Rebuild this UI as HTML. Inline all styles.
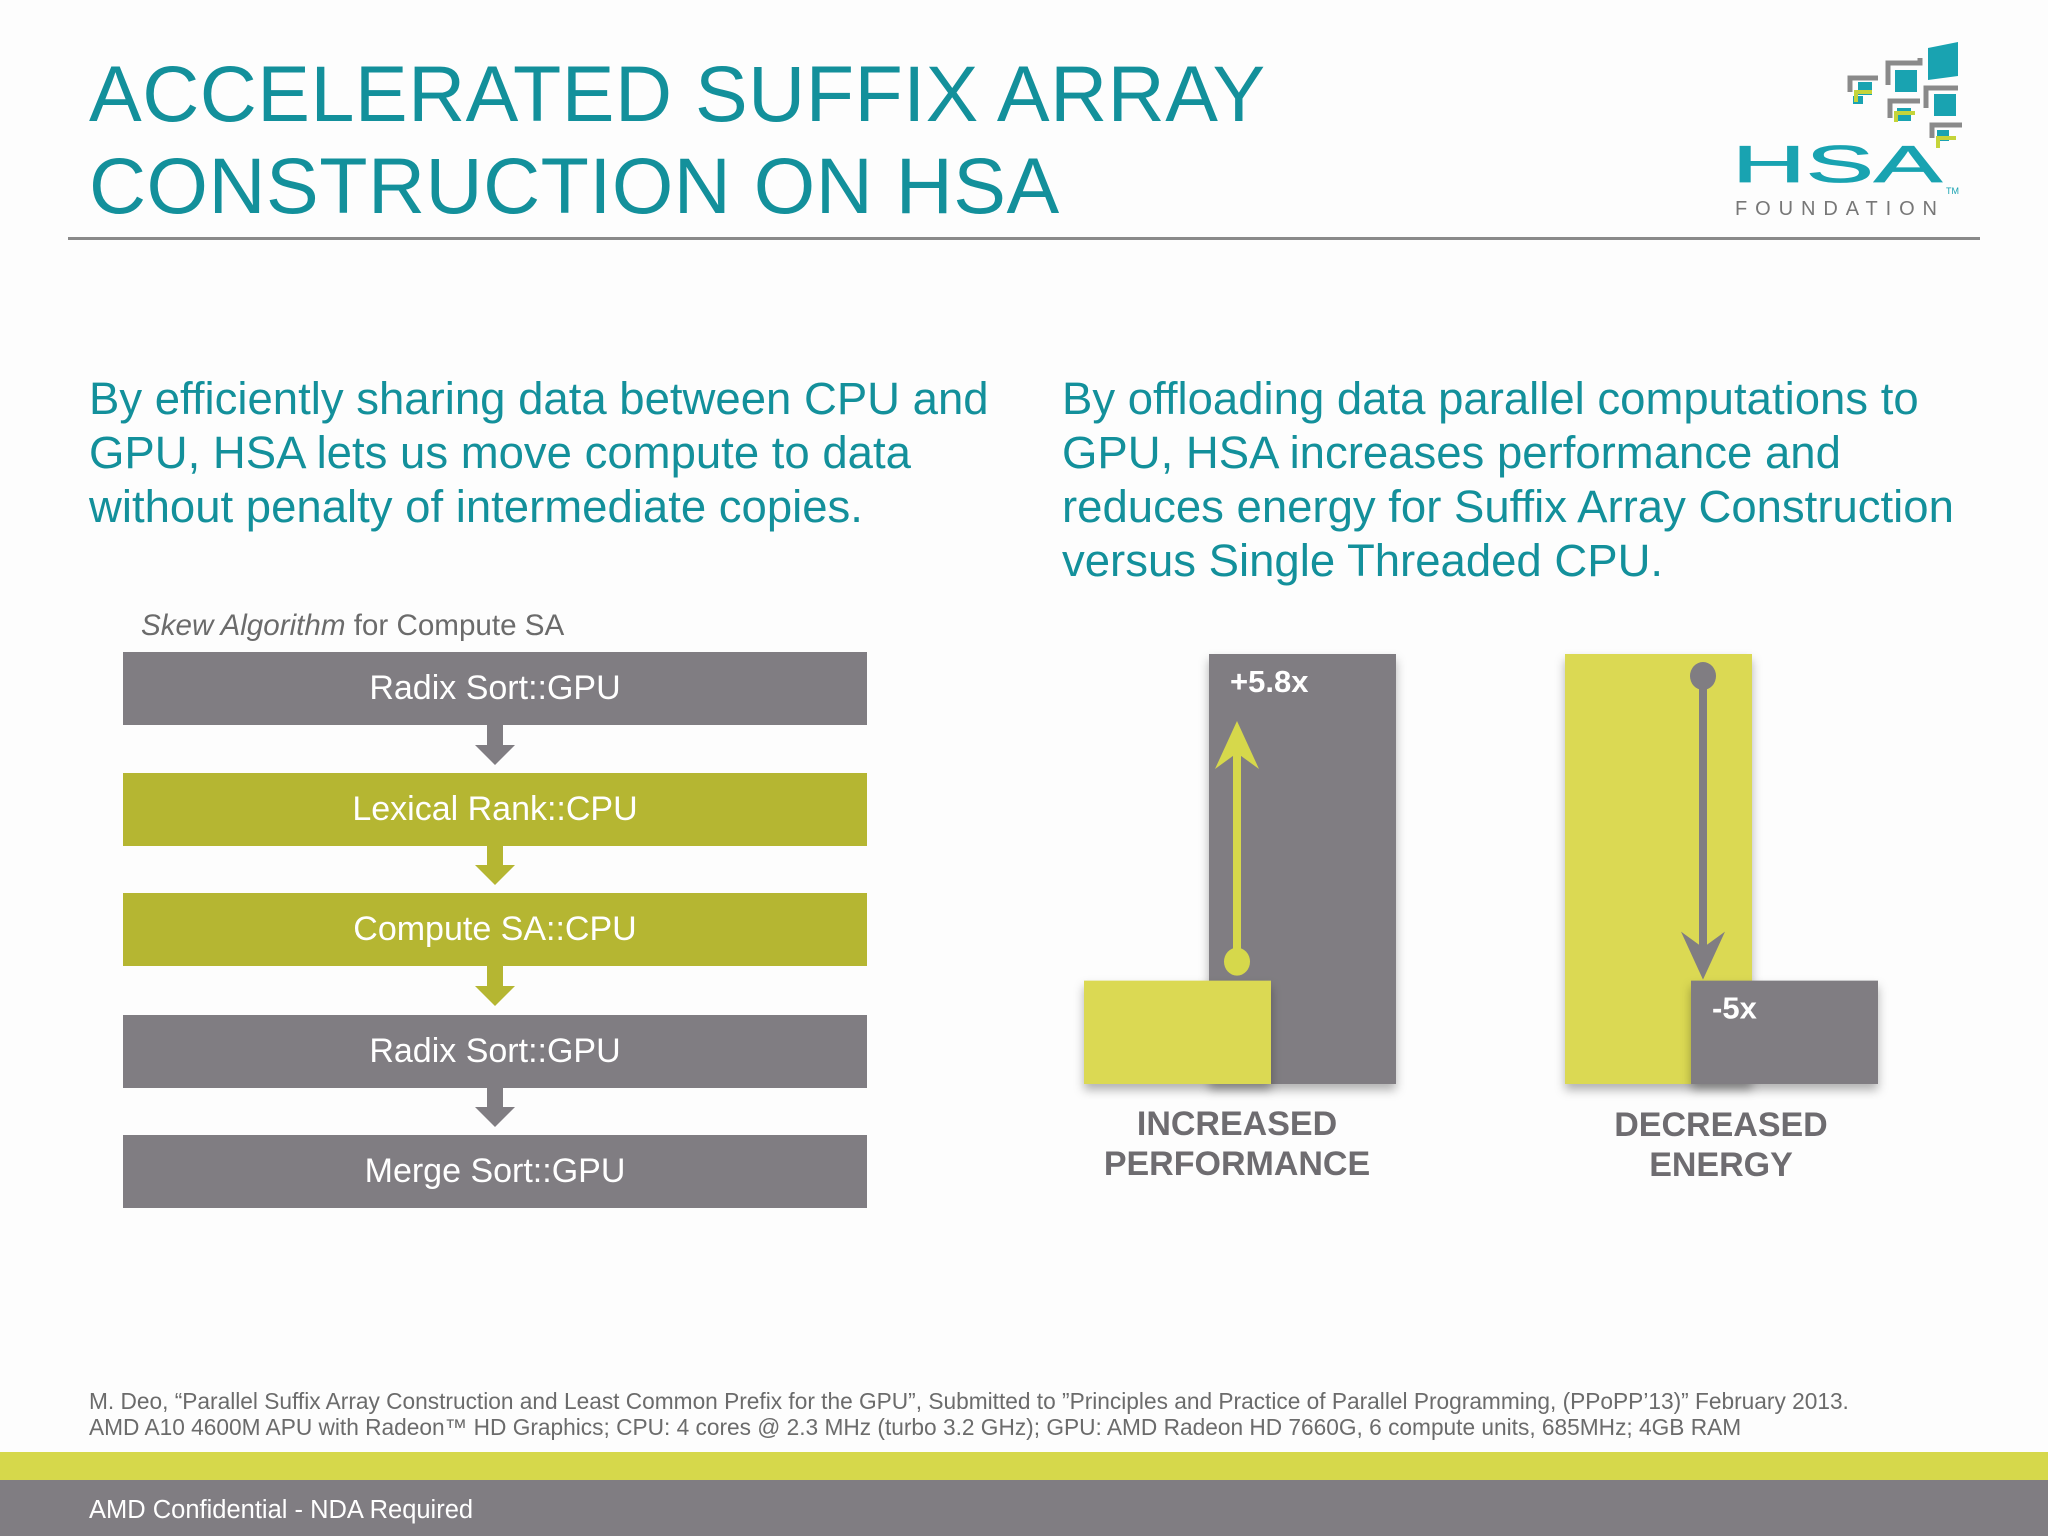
<!DOCTYPE html>
<html><head><meta charset="utf-8">
<style>
body{margin:0;width:2048px;height:1536px;background:#fdfdfd;position:relative;overflow:hidden;font-family:"Liberation Sans",sans-serif}
.abs{position:absolute}
.title{left:89px;top:48px;font-size:79px;line-height:92px;color:#13909b;letter-spacing:0.5px}
.para{font-size:45.5px;line-height:54px;color:#13909b}
.box{position:absolute;left:123px;width:744px;height:73px;color:#fff;font-size:34px;text-align:center;line-height:73px}
.g{background:#807d82}.y{background:#b5b632}
.lbl{position:absolute;font-weight:bold;font-size:34px;line-height:40px;color:#6e6c70;text-align:center;width:400px}
</style></head><body>
<div class="abs title">ACCELERATED SUFFIX ARRAY<br>CONSTRUCTION ON HSA</div>
<div class="abs" style="left:68px;top:237px;width:1912px;height:3px;background:#8a8a8a"></div>
<svg class="abs" style="left:1700px;top:30px" width="300" height="200">
<g fill="#19a3b1">
<path d="M228 18 L258 12 L258 46 L228 50z"/>
<rect x="195" y="40" width="22" height="22"/>
<rect x="234" y="64" width="22" height="22"/>
<rect x="158" y="52" width="14" height="13"/>
<rect x="197" y="78" width="14" height="13"/>
<rect x="237" y="100" width="12" height="11"/>
<rect x="153" y="66" width="10" height="8"/>
</g>
<g fill="none" stroke="#8a8a8a" stroke-width="5">
<path d="M188 55 V33 H220 V28"/>
<path d="M226 78 V58 H258"/>
<path d="M150 62 V48 H178"/>
<path d="M190 88 V71 H220"/>
<path d="M232 108 V95 H262"/>
</g>
<g fill="none" stroke="#c5d43a" stroke-width="4">
<path d="M156 72 V62 H172"/>
<path d="M196 92 V83 H215"/>
<path d="M238 118 V108 H256"/>
</g>
<text x="32" y="152" font-size="52" font-family="Liberation Sans" fill="#19a3b1" textLength="210" lengthAdjust="spacingAndGlyphs" stroke="#19a3b1" stroke-width="0.8">HSA</text>
<text x="246" y="164" font-size="9" fill="#19a3b1">TM</text>
<text x="35" y="185" font-size="20" fill="#777" textLength="202" lengthAdjust="spacing">FOUNDATION</text>
</svg>
<div class="abs para" style="left:89px;top:372px">By efficiently sharing data between CPU and<br>GPU, HSA lets us move compute to data<br>without penalty of intermediate copies.</div>
<div class="abs para" style="left:1062px;top:372px">By offloading data parallel computations to<br>GPU, HSA increases performance and<br>reduces energy for Suffix Array Construction<br>versus Single Threaded CPU.</div>
<div class="abs" style="left:141px;top:609px;font-size:29.6px;color:#6b6b6b"><i>Skew Algorithm</i> for Compute SA</div>
<div class="box g" style="top:652px">Radix Sort::GPU</div>
<div class="box y" style="top:773px">Lexical Rank::CPU</div>
<div class="box y" style="top:893px">Compute SA::CPU</div>
<div class="box g" style="top:1015px">Radix Sort::GPU</div>
<div class="box g" style="top:1135px">Merge Sort::GPU</div>
<svg class="abs" style="left:470px;top:725px" width="50" height="420">
<path d="M17 0h16v20h12l-20 20l-20-20h12z" fill="#807d82" transform="translate(0,0)"/>
<path d="M17 0h16v20h12l-20 20l-20-20h12z" fill="#b5b632" transform="translate(0,120)"/>
<path d="M17 0h16v20h12l-20 20l-20-20h12z" fill="#b5b632" transform="translate(0,241)"/>
<path d="M17 0h16v20h12l-20 20l-20-20h12z" fill="#807d82" transform="translate(0,362)"/>
</svg>
<svg class="abs" style="left:0;top:0" width="2048" height="1200" id="chart">
<defs><filter id="sh" x="-20%" y="-5%" width="140%" height="120%"><feDropShadow dx="0" dy="6" stdDeviation="5" flood-opacity="0.3"/></filter></defs>
</svg>
<div class="lbl" style="left:1037px;top:1104px">INCREASED<br>PERFORMANCE</div>
<div class="lbl" style="left:1521px;top:1105px">DECREASED<br>ENERGY</div>
<div class="abs" style="left:89px;top:1388px;font-size:22.7px;line-height:26px;color:#6b6b6b;white-space:nowrap">M. Deo, “Parallel Suffix Array Construction and Least Common Prefix for the GPU”, Submitted to ”Principles and Practice of Parallel Programming, (PPoPP’13)” February 2013.<br>AMD A10 4600M APU with Radeon™ HD Graphics; CPU: 4 cores @ 2.3 MHz (turbo 3.2 GHz); GPU: AMD Radeon HD 7660G, 6 compute units, 685MHz; 4GB RAM</div>
<div class="abs" style="left:0;top:1452px;width:2048px;height:28px;background:#d6d84b"></div>
<div class="abs" style="left:0;top:1480px;width:2048px;height:56px;background:#807d82"></div>
<div class="abs" style="left:89px;top:1496px;font-size:25.5px;color:#fff">AMD Confidential - NDA Required</div>
<script>
const groups=["performance","energy"];
const baselineValues=[1,4.16];
const hsaValues=[4.16,1];
const multipliers=["+5.8x","-5x"];
const svg=document.getElementById('chart');
const NS="http://www.w3.org/2000/svg";
const y0=1084, unitH=430/4.16;
const yScale=v=>y0-v*unitH;
const groupX=[1084,1565];
function mk(t,a){const e=document.createElementNS(NS,t);for(const k in a)e.setAttribute(k,a[k]);svg.appendChild(e);return e;}
groups.forEach((g,i)=>{
  const gx=groupX[i];
  const yb=yScale(baselineValues[i]), yh=yScale(hsaValues[i]);
  const back=i===0?{x:gx+125,y:yh,c:"#807d82"}:{x:gx,y:yb,c:"#dbd952"};
  const front=i===0?{x:gx,y:yb,c:"#dbd952"}:{x:gx+126,y:yh,c:"#807d82"};
  let b=mk('rect',{x:back.x,y:back.y,width:187,height:y0-back.y,fill:back.c,filter:"url(#sh)"});
  
  
  let f=mk('rect',{x:front.x,y:front.y,width:187,height:y0-front.y,fill:front.c,filter:"url(#sh)"});
  
  
  const ax=i===0?1237:1703, col=i===0?"#d6d84b":"#807d82";
  let a=mk('g',{});
  if(i===0){
    const ys=yb-19, ye=yh+67;
    a.innerHTML=`<line x1="${ax}" y1="${ys}" x2="${ax}" y2="${ye+20}" stroke="${col}" stroke-width="8"/><ellipse cx="${ax}" cy="${ys}" rx="13" ry="14" fill="${col}"/><path d="M${ax} ${ye} l-22 48 l22 -16 l22 16z" fill="${col}"/>`;
  } else {
    const ys=yb+22, ye=yh-1;
    a.innerHTML=`<line x1="${ax}" y1="${ys}" x2="${ax}" y2="${ye-20}" stroke="${col}" stroke-width="8"/><ellipse cx="${ax}" cy="${ys}" rx="13" ry="14" fill="${col}"/><path d="M${ax} ${ye} l-22 -48 l22 16 l22 -16z" fill="${col}"/>`;
  }
  
  
  const t=mk('text',{x:i===0?1230:1712,y:yh+38,fill:"#fff","font-size":31,"font-weight":"bold","font-family":"Liberation Sans"});
  t.textContent=multipliers[i];
  
  
});
</script>
</body></html>
